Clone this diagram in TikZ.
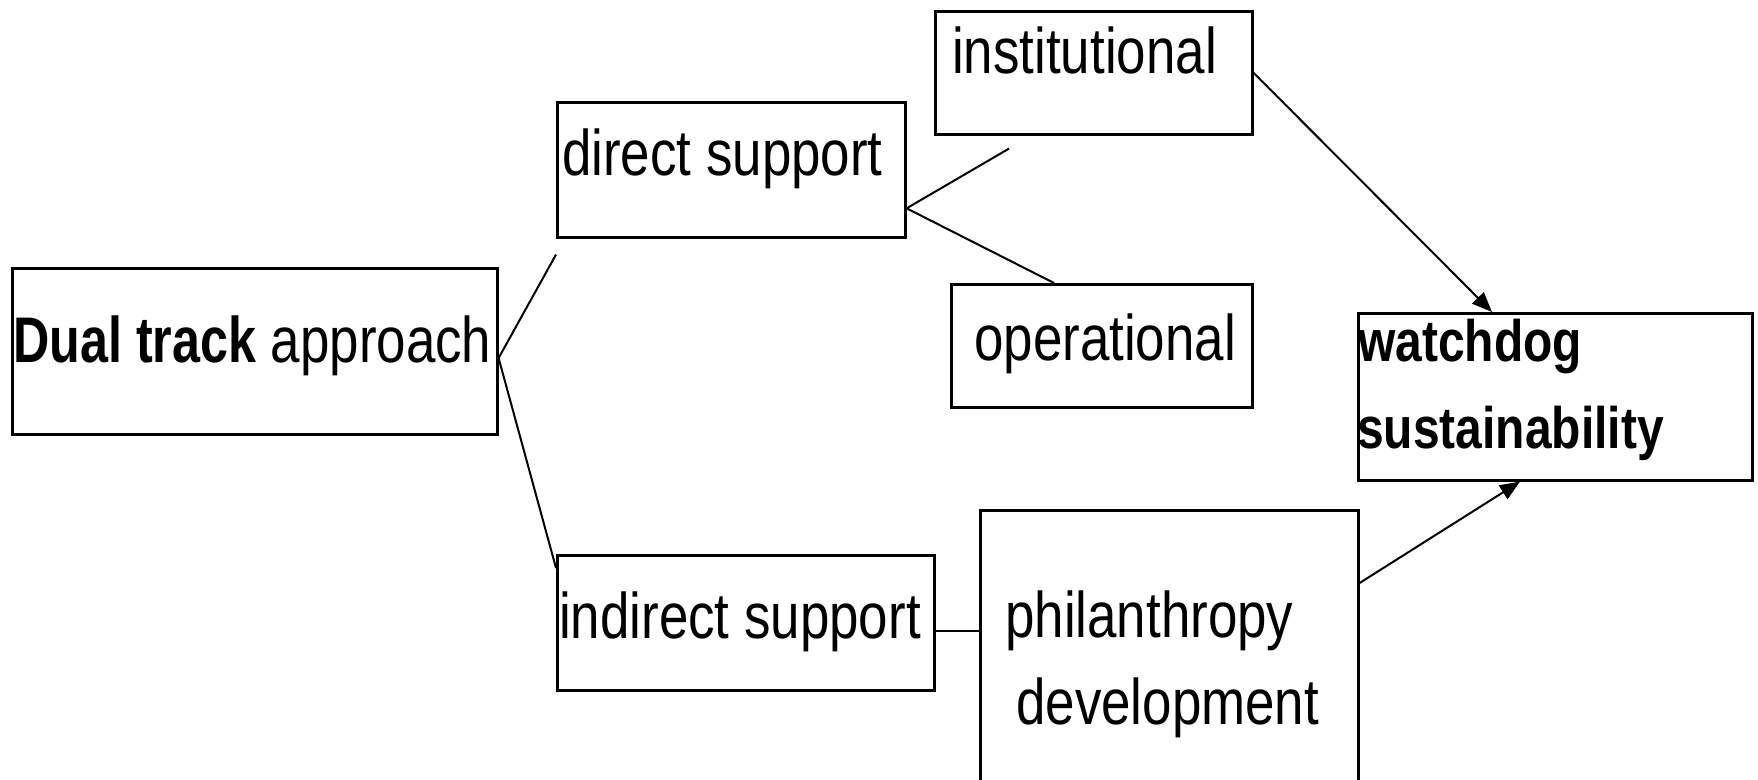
\documentclass[tikz,border=0pt]{standalone}
\usepackage{fontspec}
\usepackage{graphicx}
\setmainfont{Liberation Sans}[FakeStretch=0.82]
\usetikzlibrary{arrows.meta,calc}
\begin{document}
\begin{tikzpicture}[x=1pt,y=-1pt,
  box/.style={draw,line width=2.6pt,rectangle,inner sep=0pt,anchor=north west},
  lbl/.style={inner sep=0pt,anchor=base west,font=\fontsize{64.5}{70}\selectfont},
  lblb/.style={inner sep=0pt,anchor=base west,font=\fontsize{58.5}{70}\selectfont\bfseries},
  link/.style={line width=2pt},
  arr/.style={line width=2pt,-{Triangle[length=20pt,width=16pt]}}]
\useasboundingbox (0,0) rectangle (1758,779);
\clip (0,0) rectangle (1758,779);
% boxes
\node[box,minimum width=485pt,minimum height=166pt] (dual) at (11,267) {};
\node[box,minimum width=348pt,minimum height=135pt] (direct) at (556,101) {};
\node[box,minimum width=317pt,minimum height=123pt] (inst) at (934,10) {};
\node[box,minimum width=301pt,minimum height=123pt] (oper) at (950,283) {};
\node[box,minimum width=394pt,minimum height=167pt] (watch) at (1357,312) {};
\node[box,minimum width=377pt,minimum height=135pt] (ind) at (556,554) {};
\node[box,minimum width=378pt,minimum height=300pt] (phil) at (979,509) {};
% texts
\node[lbl] (dualT) at (13,362) {\scalebox{0.95}[1]{\textbf{Dual track}} approach};
\node[lbl] (dirT) at (562,175) {direct support};
\node[lbl] (instT) at (952,73) {institutional};
\node[lbl] (operT) at (974,360) {operational};
\node[lblb] (watchT1) at (1358,361) {watchdog};
\node[lblb] (watchT2) at (1357,448) {sustainability};
\node[lbl] (indT) at (559,638) {indirect support};
\node[lbl] (philT1) at (1005,637) {philanthropy};
\node[lbl] (philT2) at (1016,724) {development};
% connector points
\coordinate (dualR) at ($(dual.north east)!0.54!(dual.south east)$);
\coordinate (dirEnd) at ($(direct.south west)+(0,16)$);
\coordinate (indEnd) at ($(ind.north west)+(0,14)$);
\coordinate (dirR) at ($(direct.north east)!0.78!(direct.south east)$);
\coordinate (instFree) at ($(inst.south west)+(75,13)$);
\coordinate (operTop) at ($(oper.north west)+(104,0)$);
\coordinate (indR) at ($(ind.north east)!0.56!(ind.south east)$);
\coordinate (philR) at ($(phil.north east)+(0,74)$);
\coordinate (watchTop) at ($(watch.north west)+(135,0)$);
\coordinate (watchBot) at ($(watch.south west)+(163,0)$);
% connectors
\draw[link] (dirEnd) -- (dualR) -- (indEnd);
\draw[link] (instFree) -- (dirR) -- (operTop);
\draw[link] (indR) -- (indR -| phil.west);
\draw[arr] (inst.east) -- (watchTop);
\draw[arr] (philR) -- (watchBot);
\end{tikzpicture}
\end{document}
